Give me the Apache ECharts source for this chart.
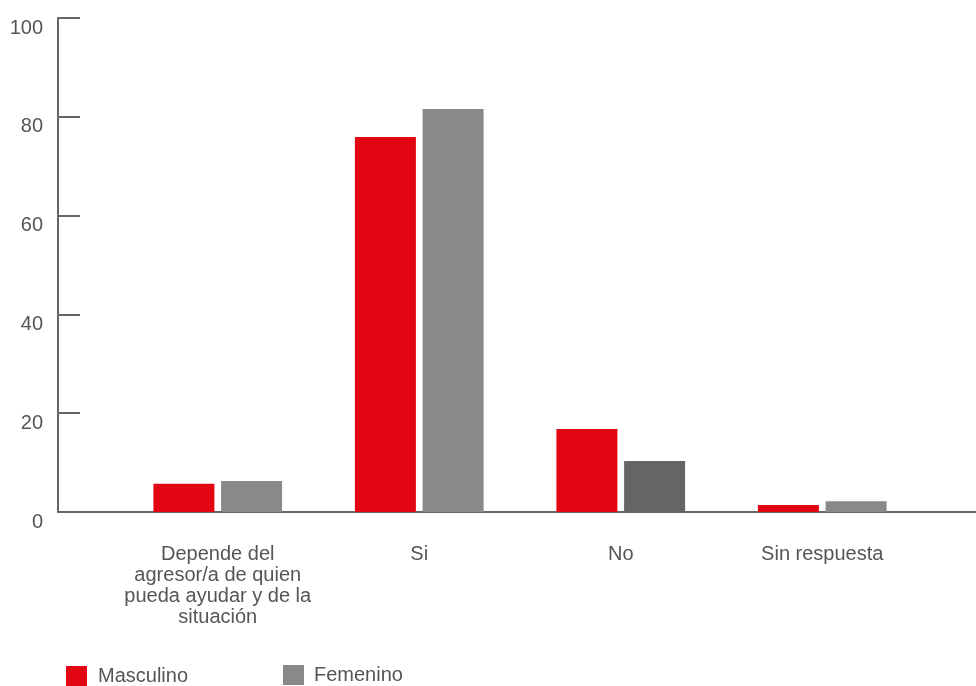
<!DOCTYPE html>
<html>
<head>
<meta charset="utf-8">
<script src="https://cdn.jsdelivr.net/npm/echarts@6/dist/echarts.min.js"></script>
<style>html,body{margin:0;padding:0;background:#fff}#c{width:976px;height:686px}</style>
</head>
<body>
<div id="c"></div>
<script>
const categories = ['Depende del\nagresor/a de quien\npueda ayudar y de la\nsituación', 'Si', 'No', 'Sin respuesta'];
const masculino = [5.7, 75.9, 16.8, 1.4];
const femenino = [6.3, 81.6, 10.3, 2.2];
const yTicks = [0, 20, 40, 60, 80, 100];

const RED = '#e20613', GRAY = '#8a888a', DARK = '#666466';
const FONT = '"Liberation Sans", Arial, Helvetica, sans-serif';

const chart = echarts.init(document.getElementById('c'));
chart.setOption({
  animation: false,
  textStyle: { fontFamily: FONT },
  grid: [
    { left: 58, right: 0, top: 18, bottom: 174 },
    { left: 117, width: 806, top: 18, bottom: 174 }
  ],
  legend: [
    { data: ['Masculino'], left: 61, top: 661, icon: 'rect', itemWidth: 21, itemHeight: 20, itemGap: 11,
      textStyle: { fontSize: 20, color: '#555', fontFamily: FONT, padding: [6, 0, 0, 6] } },
    { data: ['Femenino'], left: 278, top: 660, icon: 'rect', itemWidth: 21, itemHeight: 20,
      textStyle: { fontSize: 20, color: '#555', fontFamily: FONT, padding: [2, 0, 0, 5] } }
  ],
  xAxis: [
    { type: 'category', gridIndex: 0, data: categories,
      axisLine: { show: true, lineStyle: { color: '#666', width: 2 } },
      axisTick: { show: false }, axisLabel: { show: false }, splitLine: { show: false } },
    { type: 'category', gridIndex: 1, data: categories,
      axisLine: { show: false }, axisTick: { show: false },
      axisLabel: { color: '#555', fontSize: 20, lineHeight: 21, margin: 32, fontFamily: FONT, interval: 0 } }
  ],
  yAxis: [
    { type: 'value', gridIndex: 0, min: yTicks[0], max: yTicks[yTicks.length - 1], interval: 20,
      axisLine: { show: true, lineStyle: { color: '#666', width: 2 } },
      axisTick: { show: true, inside: true, length: 22, lineStyle: { color: '#666', width: 2 } },
      axisLabel: { color: '#555', fontSize: 20, margin: 15, verticalAlign: 'top', fontFamily: FONT },
      splitLine: { show: false } },
    { type: 'value', gridIndex: 1, min: 0, max: 100, show: false, splitLine: { show: false } }
  ],
  series: [
    { name: 'Masculino', type: 'bar', xAxisIndex: 1, yAxisIndex: 1, data: masculino,
      itemStyle: { color: RED }, barWidth: 61, barGap: '11%' },
    { name: 'Femenino', type: 'bar', xAxisIndex: 1, yAxisIndex: 1,
      data: femenino.map((v, i) => i === 2 ? { value: v, itemStyle: { color: DARK } } : v),
      itemStyle: { color: GRAY }, barWidth: 61, barGap: '11%' }
  ]
});
</script>
</body>
</html>
